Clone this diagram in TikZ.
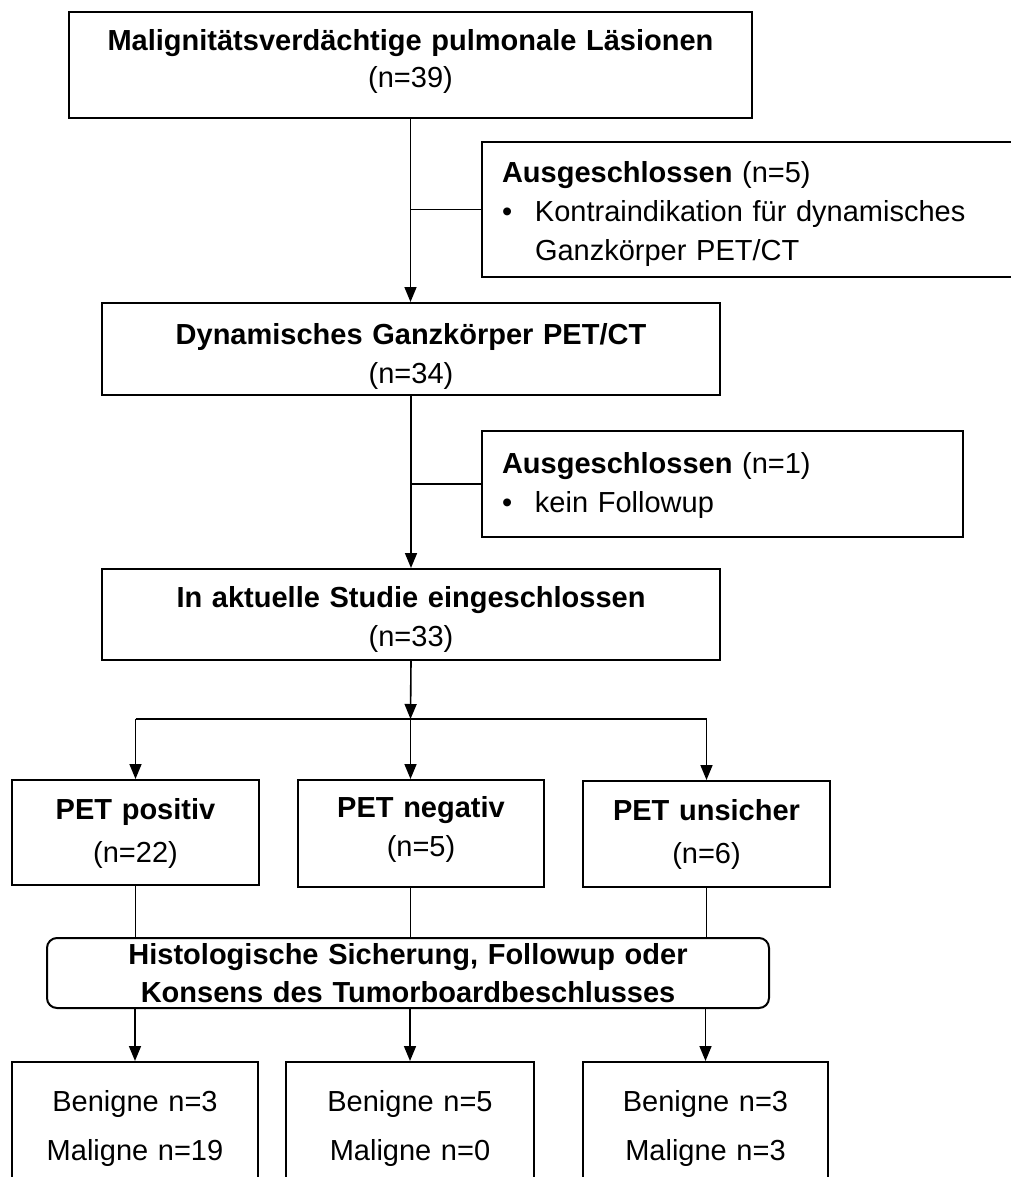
\documentclass[tikz,border=0pt]{standalone}
\usepackage{fontspec}
\setmainfont{Liberation Sans}
\usetikzlibrary{arrows.meta}

\newcommand{\exclbullet}{\makebox[33pt][l]{\textbullet}}

\tikzset{
  plainbox/.style={draw, line width=2pt, inner sep=0pt, align=center,
    font=\fontsize{29}{39}\selectfont},
  box/.style={plainbox, execute at begin node=\strut, execute at end node=\strut},
  lower/.style={execute at begin node={\rule{0pt}{\dimexpr 27.3pt+#1pt+#1pt\relax}}},
  lift/.style={execute at end node={\rule[\dimexpr -11.7pt-#1pt-#1pt\relax]{0pt}{0pt}}},
  exclbox/.style={box, align=left},
  roundbox/.style={plainbox, rounded corners=10pt},
  conn/.style={line width=1.6pt},
  arr/.style={conn, -{Triangle[length=15pt,width=12pt]}}
}

\begin{document}
\begin{tikzpicture}[x=1pt, y=-1pt]
\clip (0,0) rectangle (1011,1177);

% main column
\node[box, lift=4, minimum width=683, minimum height=106, text width=670] (lesions) at (410.5,65)
  {\textbf{Malignitätsverdächtige pulmonale Läsionen}\\[-2pt](n=39)};
\node[exclbox, lower=4, minimum width=548, minimum height=135, text width=508] (excl1) at (756,209.5)
  {\textbf{Ausgeschlossen} (n=5)\\
   \exclbullet Kontraindikation für dynamisches\\
   \hspace*{33pt}Ganzkörper PET/CT};
\node[box, lower=7, minimum width=618, minimum height=90, text width=600] (dyn) at (411,349)
  {\textbf{Dynamisches Ganzkörper PET/CT}\\(n=34)};
\node[exclbox, lower=1, minimum width=481, minimum height=106, text width=441] (excl2) at (722.5,484)
  {\textbf{Ausgeschlossen} (n=1)\\
   \exclbullet kein Followup};
\node[box, lower=5, minimum width=618, minimum height=91, text width=600] (incl) at (411,614.5)
  {\textbf{In aktuelle Studie eingeschlossen}\\(n=33)};

% PET groups
\node[box, lower=1, minimum width=247, minimum height=105, text width=235] (pos) at (135.5,832.5)
  {\textbf{PET positiv}\\[4pt](n=22)};
\node[box, lift=4, minimum width=246, minimum height=107, text width=235] (neg) at (421,833.5)
  {\textbf{PET negativ}\\(n=5)};
\node[box, minimum width=247, minimum height=106, text width=235] (uns) at (706.5,834)
  {\textbf{PET unsicher}\\[4pt](n=6)};

\node[roundbox, minimum width=722, minimum height=70, text width=710] (check) at (408,973)
  {\textbf{Histologische Sicherung, Followup oder}\\[-1pt]
   \textbf{Konsens des Tumorboardbeschlusses}};

% results
\node[box, minimum width=246, minimum height=133, text width=234] (res1) at (135,1128.5)
  {Benigne n=3\\[10pt]Maligne n=19};
\node[box, minimum width=248, minimum height=133, text width=234] (res2) at (410,1128.5)
  {Benigne n=5\\[10pt]Maligne n=0};
\node[box, minimum width=245, minimum height=133, text width=234] (res3) at (705.5,1128.5)
  {Benigne n=3\\[10pt]Maligne n=3};

\coordinate (split) at (410.5,719);

% connectors
\draw[arr] (lesions.south) -- (lesions.south |- dyn.north);
\draw[conn] (excl1.west) -- (excl1.west -| lesions.south);
\draw[arr] (dyn.south) -- (dyn.south |- incl.north);
\draw[conn] (excl2.west) -- (excl2.west -| dyn.south);
\draw[arr] (incl.south) -- (split);
\draw[conn] (split -| pos.north) -- (split -| uns.north);
\draw[arr] (split -| pos.north) -- (pos.north);
\draw[arr] (split) -- (split |- neg.north);
\draw[arr] (split -| uns.north) -- (uns.north);
\draw[conn] (pos.south) -- (pos.south |- check.north);
\draw[conn] (split |- neg.south) -- (split |- check.north);
\draw[conn] (uns.south) -- (uns.south |- check.north);
\draw[arr] (check.south -| res1.north) -- (res1.north);
\draw[arr] (check.south -| res2.north) -- (res2.north);
\draw[arr] (check.south -| res3.north) -- (res3.north);
\end{tikzpicture}
\end{document}
